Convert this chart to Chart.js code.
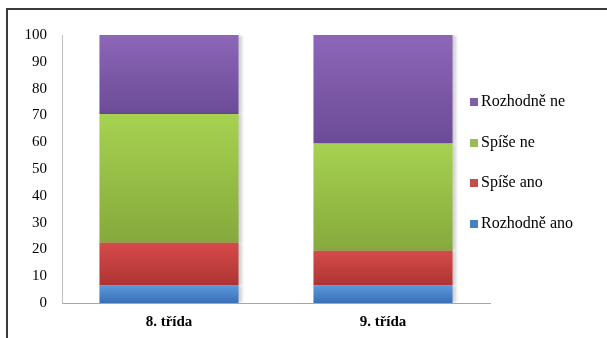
<!DOCTYPE html>
<html>
<head>
<meta charset="utf-8">
<script src="https://cdn.jsdelivr.net/npm/chart.js@4.4.1/dist/chart.umd.min.js"></script>
<style>
  html, body { margin: 0; padding: 0; background: #fff; }
  #wrap { position: relative; width: 607px; height: 338px; overflow: hidden; }
  #frame { position: absolute; left: 6px; top: 8px; width: 610px; height: 340px;
           border-left: 2px solid #3a3a3a; border-top: 2px solid #3a3a3a; }
  #chartBox { position: absolute; left: 0; top: 0; width: 607px; height: 338px; }
  #legend { position: absolute; left: 470px; top: 92px;
            font-family: 'Liberation Serif', 'Times New Roman', 'DejaVu Serif', serif;
            font-size: 16px; color: #000; }
  #legend div { height: 40.7px; display: flex; align-items: flex-start; }
  #legend span.box { display: inline-block; width: 8px; height: 8px; margin: 6px 3px 0 0; }
</style>
</head>
<body>
<div id="wrap">
  <div id="frame"></div>
  <div id="chartBox"><canvas id="c"></canvas></div>
  <div id="legend"></div>
</div>
<script>
const CATEGORIES = ['8. třída', '9. třída'];
const SERIES_NAMES = ['Rozhodně ano', 'Spíše ano', 'Spíše ne', 'Rozhodně ne'];
const ROZHODNE_ANO = [6.5, 6.5];
const SPISE_ANO = [16, 13];
const SPISE_NE = [48, 40];
const ROZHODNE_NE = [29.5, 40.5];
const Y_TICKS = [0, 10, 20, 30, 40, 50, 60, 70, 80, 90, 100];

// top / bottom colour of each segment gradient
const COLORS = [
  ['#5a98dc', '#3a6fb5'],
  ['#d54b4a', '#ad3433'],
  ['#a6d251', '#86a93c'],
  ['#8d66b8', '#6b4b97']
];
const LEGEND_COLORS = ['#4a7fc0', '#c0504d', '#9bbb59', '#7f5fa8'];

const seriesValues = [ROZHODNE_ANO, SPISE_ANO, SPISE_NE, ROZHODNE_NE];

function segmentFill(dsIndex) {
  return function(context) {
    const chart = context.chart;
    const y = chart.scales.y;
    if (!y || context.type !== 'data') return COLORS[dsIndex][0];
    let start = 0;
    for (let i = 0; i < dsIndex; i++) start += seriesValues[i][context.dataIndex];
    const end = start + seriesValues[dsIndex][context.dataIndex];
    const top = y.getPixelForValue(end);
    const bottom = y.getPixelForValue(start);
    if (!isFinite(top) || !isFinite(bottom) || top === bottom) return COLORS[dsIndex][0];
    const g = chart.ctx.createLinearGradient(0, top, 0, bottom);
    g.addColorStop(0, COLORS[dsIndex][0]);
    g.addColorStop(1, COLORS[dsIndex][1]);
    return g;
  };
}

// soft shadow on the right side of the bars
const barShadow = {
  id: 'barShadow',
  beforeDatasetsDraw(chart) {
    const c = chart.ctx;
    c.save();
    c.shadowColor = 'rgba(0,0,0,0.18)';
    c.shadowOffsetX = 3;
    c.shadowOffsetY = 0;
    c.shadowBlur = 3;
  },
  afterDatasetsDraw(chart) {
    chart.ctx.restore();
  }
};

function buildLegend() {
  const el = document.getElementById('legend');
  for (let i = SERIES_NAMES.length - 1; i >= 0; i--) {
    const row = document.createElement('div');
    row.innerHTML = '<span class="box" style="background:' + LEGEND_COLORS[i] + '"></span>' + SERIES_NAMES[i];
    el.appendChild(row);
  }
}

function initChart() {
  const ctx = document.getElementById('c').getContext('2d');
  new Chart(ctx, {
    type: 'bar',
    data: {
      labels: CATEGORIES,
      datasets: SERIES_NAMES.map((name, i) => ({
        label: name,
        data: seriesValues[i],
        backgroundColor: segmentFill(i),
        borderWidth: 0,
        barPercentage: 1,
        categoryPercentage: 0.65
      }))
    },
    options: {
      responsive: true,
      maintainAspectRatio: false,
      animation: false,
      layout: { padding: { left: 0, right: 117, top: 35, bottom: 0 } },
      plugins: { legend: { display: false }, tooltip: { enabled: false } },
      scales: {
        x: {
          stacked: true,
          grid: { display: false, drawTicks: false },
          border: { display: true, color: '#a6a6a6', width: 1 },
          ticks: {
            padding: 10,
            color: '#000',
            font: { family: "'Liberation Serif', serif", size: 15, weight: 'bold' }
          },
          afterFit: s => { s.height = 35; }
        },
        y: {
          stacked: true,
          min: 0,
          max: 100,
          afterBuildTicks: s => { s.ticks = Y_TICKS.map(v => ({ value: v })); },
          grid: { display: false, drawTicks: false },
          border: { display: true, color: '#c0c0c0', width: 1 },
          ticks: {
            padding: 15,
            color: '#000',
            font: { family: "'Liberation Serif', serif", size: 15 }
          },
          afterFit: s => { s.width = 62; }
        }
      }
    },
    plugins: [barShadow]
  });
}

document.addEventListener('DOMContentLoaded', () => {
  buildLegend();
  initChart();
});
</script>
</body>
</html>
